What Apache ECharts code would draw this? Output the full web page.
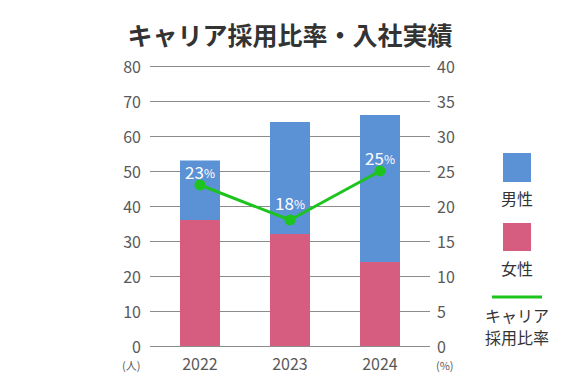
<!DOCTYPE html>
<html><head><meta charset="utf-8">
<script src="https://cdn.jsdelivr.net/npm/echarts@6/dist/echarts.min.js"></script>
<style>html,body{margin:0;padding:0;background:#fff}#c{width:580px;height:388px}</style>
</head><body><div id="c"></div>
<script>
const titleText = 'キャリア採用比率・入社実績';
const years = ['2022', '2023', '2024'];
const female = [36, 32, 24];
const male = [17, 32, 42];
const careerRate = [23, 18, 25];
const leftTicks = {min: 0, max: 80, interval: 10};
const rightTicks = {min: 0, max: 40, interval: 5};
const names = {male: '男性', female: '女性', rate: 'キャリア\n採用比率'};

const FONT = '"Noto Sans CJK JP", "Noto Sans", sans-serif';
const BLUE = '#5B92D5', PINK = '#D65C80', GREEN = '#1DC41D', GRAY = '#595959';

const chart = echarts.init(document.getElementById('c'), null, {renderer: 'svg'});
chart.setOption({
  animation: false,
  textStyle: {fontFamily: FONT},
  title: {text: titleText, left: 'center', top: 16,
    textStyle: {fontSize: 25, fontWeight: 'bold', color: '#333', fontFamily: FONT}},
  grid: [
    {left: 150, right: 150, top: 66, bottom: 42},
    {left: 155, right: 155, top: 66, bottom: 42}
  ],
  xAxis: [
    {gridIndex: 0, type: 'value', show: false, min: 0, max: 1},
    {gridIndex: 1, type: 'category', data: years,
      axisLine: {show: false}, axisTick: {show: false},
      axisLabel: {fontSize: 16, color: GRAY, margin: 9, fontFamily: FONT}}
  ],
  yAxis: [
    {gridIndex: 0, type: 'value', position: 'left', min: leftTicks.min, max: leftTicks.max, interval: leftTicks.interval,
      axisLine: {show: false}, axisTick: {show: false},
      axisLabel: {fontSize: 16, lineHeight: 16, color: GRAY, margin: 9, fontFamily: FONT},
      splitLine: {lineStyle: {color: '#8c8c8c', width: 1}}},
    {gridIndex: 0, type: 'value', position: 'right', min: rightTicks.min, max: rightTicks.max, interval: rightTicks.interval,
      axisLine: {show: false}, axisTick: {show: false},
      axisLabel: {fontSize: 16, lineHeight: 16, color: GRAY, margin: 7, fontFamily: FONT},
      splitLine: {show: false}},
    {gridIndex: 1, type: 'value', show: false, min: leftTicks.min, max: leftTicks.max, splitLine: {show: false}},
    {gridIndex: 1, type: 'value', show: false, min: rightTicks.min, max: rightTicks.max, splitLine: {show: false}}
  ],
  series: [
    {name: '女性', type: 'bar', stack: 'a', xAxisIndex: 1, yAxisIndex: 2, data: female,
      barWidth: 40, itemStyle: {color: PINK}},
    {name: '男性', type: 'bar', stack: 'a', xAxisIndex: 1, yAxisIndex: 2, data: male,
      barWidth: 40, itemStyle: {color: BLUE}},
    {name: 'キャリア採用比率', type: 'line', xAxisIndex: 1, yAxisIndex: 3,
      data: careerRate.map((v, i) => ({value: v, label: {distance: i === 1 ? 4 : 0}})),
      symbol: 'circle', symbolSize: 11,
      lineStyle: {color: GREEN, width: 3}, itemStyle: {color: GREEN},
      label: {show: true, position: 'top', formatter: '{a|{c}}{b|%}',
        rich: {a: {fontSize: 17, color: '#fff', fontFamily: FONT}, b: {fontSize: 12, color: '#fff', fontFamily: FONT, padding: [3, 0, 0, 0]}}},
      z: 5}
  ],
  graphic: [
    {type: 'text', left: 122, top: 359, style: {text: '(人)', fontSize: 11, lineHeight: 11, fill: GRAY, fontFamily: FONT}},
    {type: 'text', left: 436, top: 359, style: {text: '(%)', fontSize: 11, lineHeight: 11, fill: GRAY, fontFamily: FONT}},
    {type: 'rect', shape: {x: 503, y: 153, width: 28, height: 29}, style: {fill: BLUE}},
    {type: 'text', x: 517, y: 198, style: {text: names.male, fontSize: 16, fill: '#333', fontFamily: FONT, align: 'center', verticalAlign: 'middle'}},
    {type: 'rect', shape: {x: 503, y: 223, width: 28, height: 28}, style: {fill: PINK}},
    {type: 'text', x: 517, y: 268, style: {text: names.female, fontSize: 16, fill: '#333', fontFamily: FONT, align: 'center', verticalAlign: 'middle'}},
    {type: 'line', shape: {x1: 492, y1: 297, x2: 542, y2: 297}, style: {stroke: GREEN, lineWidth: 3}},
    {type: 'text', x: 517, y: 326, style: {text: names.rate, fontSize: 16, lineHeight: 22, fill: '#333', fontFamily: FONT, align: 'center', verticalAlign: 'middle'}}
  ]
});
</script></body></html>
